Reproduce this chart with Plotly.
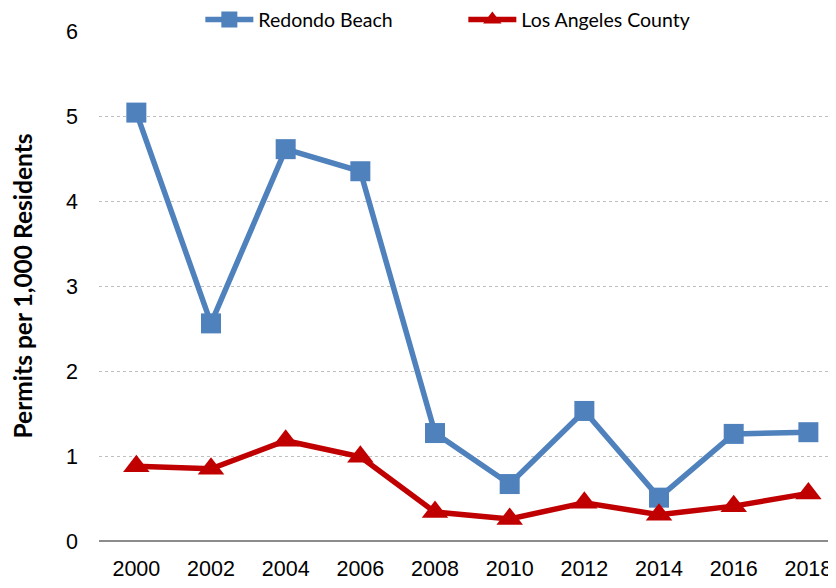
import plotly.graph_objects as go

years = ["2000", "2002", "2004", "2006", "2008", "2010", "2012", "2014", "2016", "2018"]
redondo = [5.04, 2.56, 4.61, 4.35, 1.27, 0.67, 1.53, 0.51, 1.26, 1.28]
la_county = [0.88, 0.85, 1.18, 0.99, 0.34, 0.26, 0.45, 0.31, 0.41, 0.56]
y_ticks = [0, 1, 2, 3, 4, 5, 6]

fig = go.Figure()
fig.add_trace(go.Scatter(
    x=years, y=redondo, name="Redondo Beach", mode="lines+markers",
    line=dict(color="#4F81BD", width=5.5),
    marker=dict(symbol="square", size=20, color="#4F81BD"),
))
fig.add_trace(go.Scatter(
    x=years, y=la_county, name="Los Angeles County", mode="lines+markers",
    line=dict(color="#C00000", width=5.5),
    marker=dict(symbol="triangle-up", size=23, color="#C00000"),
))

tick_font = dict(family="Liberation Sans, Arial, sans-serif", size=21.5, color="black")

# page body has an 8px default margin, so the figure is sized/placed to compensate
fig.update_layout(
    width=828, height=580,
    margin=dict(l=91, r=0, t=23, b=47, autoexpand=False),
    plot_bgcolor="white", paper_bgcolor="white",
    showlegend=True,
    legend=dict(
        orientation="h", x=0.1375, y=1.022, xanchor="left", yanchor="middle",
        font=dict(family="Lato, Open Sans, sans-serif", size=19.5, color="black"),
        entrywidth=200, entrywidthmode="pixels",
        bgcolor="rgba(255,255,255,0)", itemwidth=48,
    ),
    xaxis=dict(
        type="category", range=[-0.5, 9.37], automargin=False,
        showgrid=False, showline=False, ticks="", ticklabelstandoff=12,
        tickfont=tick_font,
    ),
    yaxis=dict(
        range=[0, 6], tickvals=y_ticks, ticktext=[str(v) for v in y_ticks],
        automargin=False,
        showgrid=True, gridcolor="#BFBFBF", griddash="dot", gridwidth=1,
        zeroline=True, zerolinecolor="#8C8C8C", zerolinewidth=2,
        ticks="", ticklabelstandoff=20,
        tickfont=tick_font,
        title=dict(text="<b>Permits per 1,000 Residents</b>", standoff=32,
                   font=dict(family="Lato, Open Sans, sans-serif", size=24.5, color="black")),
    ),
)

fig.write_html("out.html")
